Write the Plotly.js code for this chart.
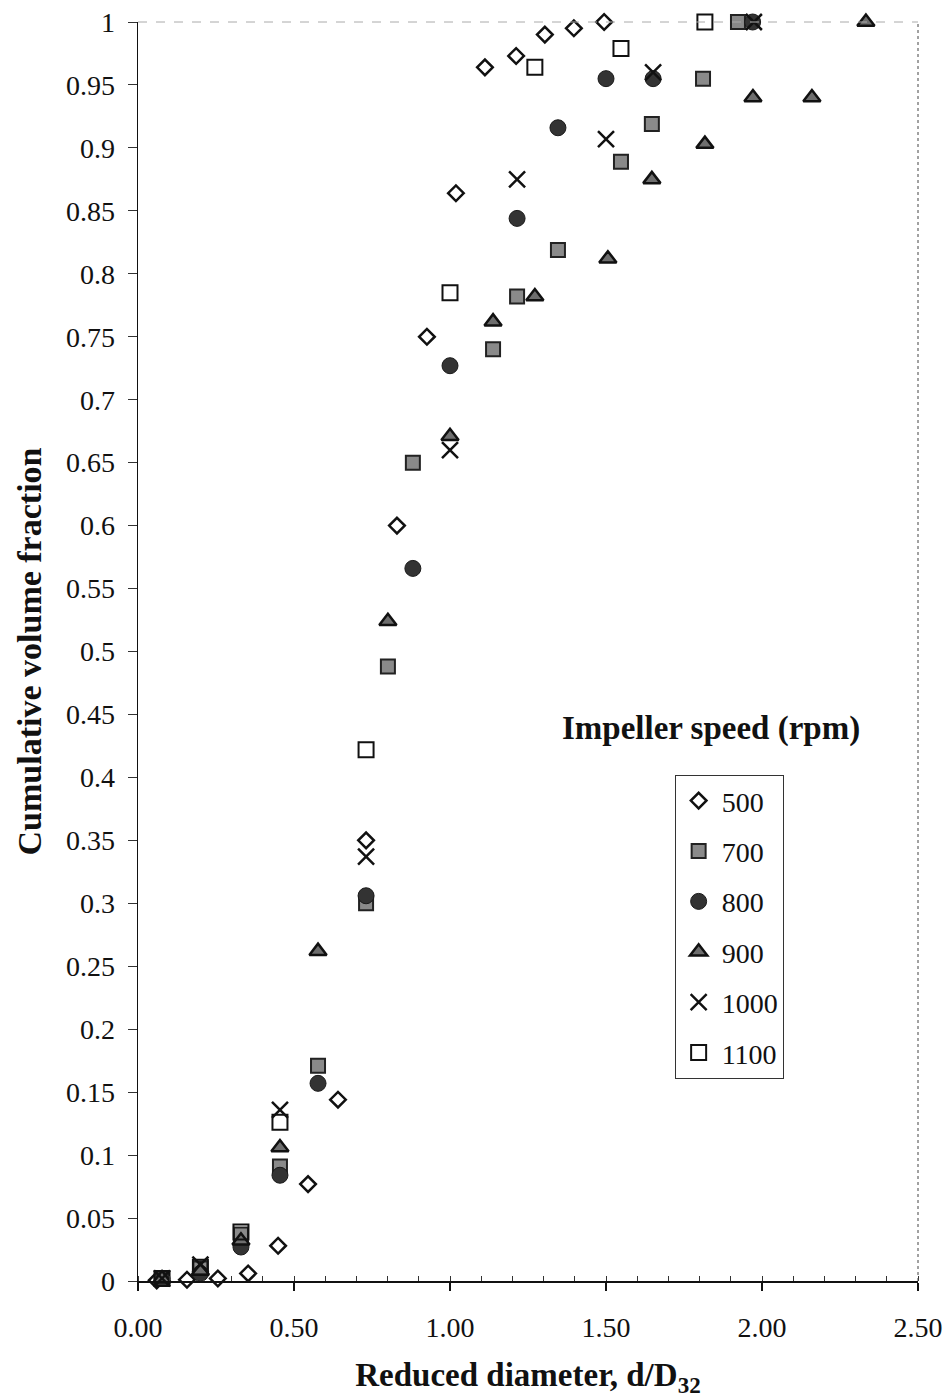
<!DOCTYPE html>
<html>
<head>
<meta charset="utf-8">
<script src="https://cdn.plot.ly/plotly-3.0.1.min.js"></script>
<style>html,body{margin:0;padding:0;background:#fff;}#chart{width:952px;height:1398px;}</style>
</head>
<body>
<div id="chart"></div>
<script>
// Impeller speed series (rpm)
const seriesNames = ["500", "700", "800", "900", "1000", "1100"];

const x500 = [0.06, 0.157, 0.256, 0.353, 0.449, 0.545, 0.641, 0.731, 0.830, 0.926, 1.019, 1.112, 1.212, 1.304, 1.397, 1.494];
const y500 = [0.0005, 0.001, 0.002, 0.006, 0.028, 0.077, 0.144, 0.350, 0.600, 0.750, 0.864, 0.964, 0.973, 0.990, 0.995, 1.0];

const x700 = [0.077, 0.2, 0.33, 0.455, 0.577, 0.731, 0.801, 0.881, 1.138, 1.215, 1.346, 1.548, 1.647, 1.811, 1.923];
const y700 = [0.002, 0.010, 0.037, 0.091, 0.171, 0.300, 0.488, 0.650, 0.740, 0.782, 0.819, 0.889, 0.919, 0.955, 1.0];

const x800 = [0.077, 0.2, 0.33, 0.455, 0.577, 0.731, 0.881, 1.0, 1.215, 1.346, 1.5, 1.651, 1.97];
const y800 = [0.002, 0.006, 0.027, 0.084, 0.157, 0.306, 0.566, 0.727, 0.844, 0.916, 0.955, 0.955, 1.0];

const x900 = [0.077, 0.2, 0.33, 0.455, 0.577, 0.801, 1.0, 1.138, 1.272, 1.506, 1.647, 1.817, 1.971, 2.16, 2.333];
const y900 = [0.002, 0.008, 0.032, 0.106, 0.262, 0.524, 0.671, 0.762, 0.782, 0.812, 0.875, 0.903, 0.940, 0.940, 1.0];

const x1000 = [0.077, 0.2, 0.455, 0.731, 1.0, 1.215, 1.5, 1.651, 1.974];
const y1000 = [0.002, 0.013, 0.136, 0.337, 0.660, 0.875, 0.907, 0.960, 1.0];

const x1100 = [0.077, 0.2, 0.33, 0.455, 0.731, 1.0, 1.272, 1.548, 1.817];
const y1100 = [0.002, 0.011, 0.039, 0.126, 0.422, 0.785, 0.964, 0.979, 1.0];

const xTickVals = [0, 0.5, 1.0, 1.5, 2.0, 2.5];
const xTickText = ["0.00", "0.50", "1.00", "1.50", "2.00", "2.50"];

const FONT = "Liberation Serif, Times New Roman, serif";

function tr(x, y, name, marker, i) {
  return {
    type: "scatter", mode: "markers", x: x, y: y, name: name,
    legendgroup: "g" + i, cliponaxis: false,
    marker: marker, hoverinfo: "x+y+name"
  };
}

const data = [
  tr(x500, y500, seriesNames[0], {symbol: "diamond-open", size: 12, color: "#111", line: {width: 2.5, color: "#111"}}, 0),
  tr(x700, y700, seriesNames[1], {symbol: "square", size: 14, color: "#8a8a8a", line: {width: 2, color: "#222"}}, 1),
  tr(x800, y800, seriesNames[2], {symbol: "circle", size: 16, color: "#333", line: {width: 1, color: "#1a1a1a"}}, 2),
  tr(x900, y900, seriesNames[3], {symbol: "triangle-up", size: 15, color: "#6e6e6e", line: {width: 2.5, color: "#111"}}, 3),
  tr(x1000, y1000, seriesNames[4], {symbol: "x-thin-open", size: 16, color: "#111", line: {width: 2.5, color: "#111"}}, 4),
  tr(x1100, y1100, seriesNames[5], {symbol: "square-open", size: 15, color: "#111", line: {width: 2, color: "#111"}}, 5)
];

const layout = {
  width: 952, height: 1398,
  margin: {l: 138, r: 34, t: 22, b: 117},
  paper_bgcolor: "#fff", plot_bgcolor: "#fff",
  font: {family: FONT, size: 28, color: "#111"},
  showlegend: true,
  legend: {
    x: 0.688, y: 0.402, xanchor: "left", yanchor: "top",
    bgcolor: "#fff", bordercolor: "#333", borderwidth: 1,
    font: {family: FONT, size: 28, color: "#111"},
    tracegroupgap: 11, itemsizing: "trace", itemwidth: 36
  },
  xaxis: {
    range: [0, 2.5], tickvals: xTickVals, ticktext: xTickText,
    showgrid: false, zeroline: false,
    showline: true, linecolor: "#111", linewidth: 1.5,
    ticks: "outside", ticklen: 8, tickwidth: 1.5, tickcolor: "#111",
    ticklabelstandoff: 13,
    minor: {dtick: 0.1, ticks: "inside", ticklen: 5, tickcolor: "#333", tickwidth: 1, showgrid: false},
    tickfont: {family: FONT, size: 28, color: "#111"},
    title: {text: "<b>Reduced diameter, d/D<sub>32</sub></b>", font: {family: FONT, size: 33, color: "#111"}, standoff: 24}
  },
  yaxis: {
    range: [0, 1], dtick: 0.05, tick0: 0,
    showgrid: false, zeroline: false,
    showline: true, linecolor: "#111", linewidth: 1.5,
    ticks: "outside", ticklen: 9, tickwidth: 1, tickcolor: "#333",
    ticklabelstandoff: 7,
    tickfont: {family: FONT, size: 28, color: "#111"},
    title: {text: "<b>Cumulative volume fraction</b>", font: {family: FONT, size: 34, color: "#111"}, standoff: 14}
  },
  shapes: [
    {type: "line", xref: "paper", yref: "paper", x0: 0, x1: 1, y0: 1, y1: 1, line: {color: "#aaa", width: 1, dash: "dash"}},
    {type: "line", xref: "paper", yref: "paper", x0: 1, x1: 1, y0: 0, y1: 1, line: {color: "#444", width: 1, dash: "dot"}}
  ],
  annotations: [
    {xref: "paper", yref: "paper", x: 0.735, y: 0.439, xanchor: "center", yanchor: "middle",
     text: "<b>Impeller speed (rpm)</b>", showarrow: false, font: {family: FONT, size: 33, color: "#111"}}
  ]
};

Plotly.newPlot("chart", data, layout, {displayModeBar: false, staticPlot: true});
</script>
</body>
</html>
